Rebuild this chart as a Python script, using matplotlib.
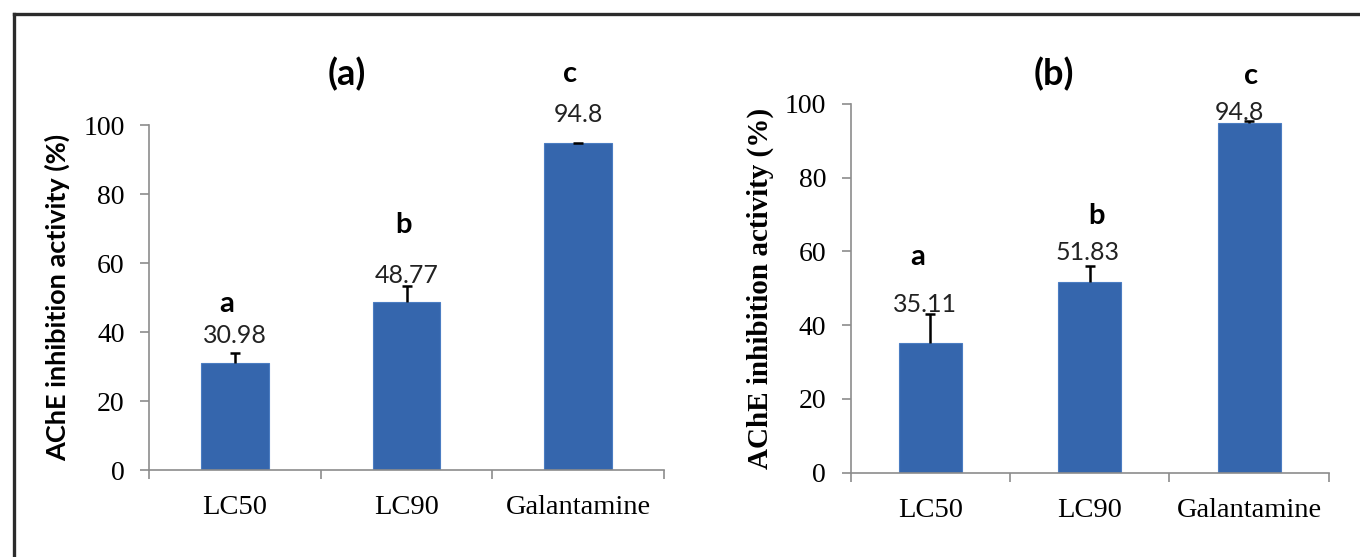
import matplotlib
matplotlib.use("Agg")
import matplotlib.pyplot as plt
from matplotlib.lines import Line2D

# data
categories = ["LC50", "LC90", "Galantamine"]
values_a = [30.98, 48.77, 94.8]
err_a = [3.0, 4.6, 0.0]
letters_a = ["a", "b", "c"]
values_b = [35.11, 51.83, 94.8]
err_b = [7.8, 4.2, 0.7]
letters_b = ["a", "b", "c"]
yticks = [0, 20, 40, 60, 80, 100]

bar_color = "#3566ad"
axis_gray = "#8c8c8c"
sans = "Lato"
serif = "Liberation Serif"

# tick labels use the serif face
plt.rcParams["font.family"] = serif

fig = plt.figure(figsize=(13.6, 5.57), dpi=100)
ax_a = fig.add_axes([0.1096, 0.1557, 0.3787, 0.6193])
ax_b = fig.add_axes([0.6254, 0.1517, 0.3516, 0.6616])


def style_axes(ax, ylabel_font, ylabel_x):
    x = list(range(len(categories)))
    ax.set_xlim(-0.5, len(categories) - 0.5)
    ax.set_ylim(0, 100)
    for s in ["top", "right"]:
        ax.spines[s].set_visible(False)
    for s in ["left", "bottom"]:
        ax.spines[s].set_color(axis_gray)
        ax.spines[s].set_linewidth(1.2)
    ax.tick_params(axis="y", direction="out", length=6.5, width=1.2,
                   color=axis_gray, pad=11, labelsize=20)
    ax.tick_params(axis="x", which="major", direction="out", length=6.5,
                   width=1.2, color=axis_gray)
    ax.tick_params(axis="x", which="minor", length=0, pad=18, labelsize=20.5)
    ax.set_yticks(yticks)
    ax.set_yticklabels([str(t) for t in yticks])
    # boundary ticks on x, labels in the middle
    ax.set_xticks([i - 0.5 for i in range(len(categories) + 1)])
    ax.set_xticklabels([])
    ax.set_xticks(x, minor=True)
    ax.set_xticklabels(categories, minor=True)
    ax.set_ylabel("AChE inhibition activity (%)", fontweight="bold",
                  **ylabel_font)
    ax.yaxis.set_label_coords(ylabel_x, 0.5)


def draw_panel(ax, vals, errs, letters, title, title_pos, letter_pos,
               value_pos):
    x = list(range(len(categories)))
    ax.bar(x, vals, width=0.395, color=bar_color, edgecolor="#4b7dc2",
           linewidth=0.8, zorder=2)
    # plus-direction error bars only
    tops = [v + e for v, e in zip(vals, errs)]
    ax.vlines(x, vals, tops, colors="black", linewidth=1.8, zorder=3)
    ax.plot(x, tops, linestyle="none", marker="_", markersize=7,
            markeredgewidth=1.8, color="black", zorder=3)
    for i, v in enumerate(vals):
        ax.text(value_pos[i][0], value_pos[i][1], f"{v:g}", ha="center",
                va="center", fontsize=18, fontfamily=sans, color="#222222",
                zorder=4)
        ax.text(letter_pos[i][0], letter_pos[i][1], letters[i], ha="center",
                va="center", fontsize=21, fontweight="bold", fontfamily=sans)
    ax.text(title_pos[0], title_pos[1], title, ha="center", va="center",
            fontsize=26, fontweight="bold", fontfamily=sans)


style_axes(ax_a, {"fontfamily": sans, "fontsize": 19.5}, -0.154)
draw_panel(ax_a, values_a, err_a, letters_a, "(a)", (0.653, 115),
           [(-0.047, 48.3), (0.983, 71.1), (1.954, 115.0)],
           [(0.0, 39.2), (1.003, 56.6), (2.004, 103.1)])

style_axes(ax_b, {"fontfamily": serif, "fontsize": 21}, -0.160)
draw_panel(ax_b, values_b, err_b, letters_b, "(b)", (0.778, 108),
           [(-0.076, 58.5), (1.04, 69.5), (2.01, 107.5)],
           [(-0.03, 45.5), (0.99, 59.7), (1.94, 97.6)])

# outer frame (left and top edges visible)
fx = 13.5 / 1360
fy = 1 - 13.5 / 557
fig.add_artist(Line2D([fx, fx], [0, fy], transform=fig.transFigure,
                      color="#2b2b2b", linewidth=2.4))
fig.add_artist(Line2D([fx, 1], [fy, fy], transform=fig.transFigure,
                      color="#2b2b2b", linewidth=2.4))

fig.savefig("out.png", dpi=100)
